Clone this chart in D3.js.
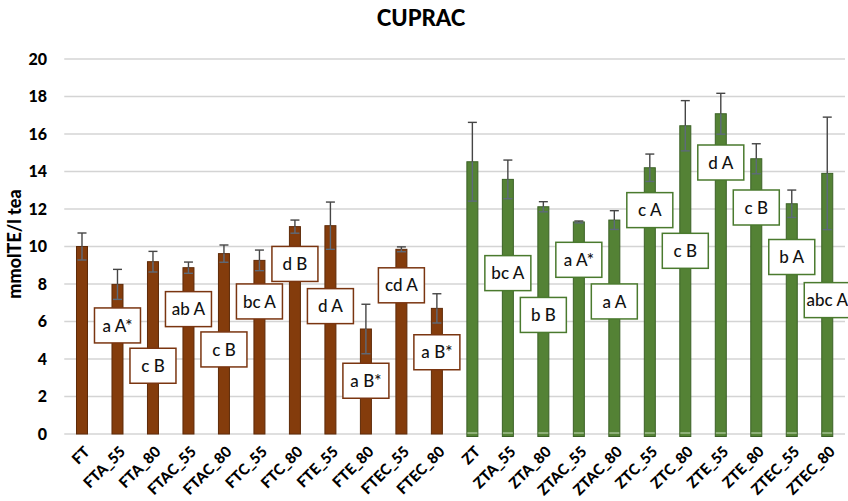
<!DOCTYPE html>
<html>
<head>
<meta charset="utf-8">
<script src="https://cdn.jsdelivr.net/npm/d3@7"></script>
<style>
  html, body { margin: 0; padding: 0; background: #fff; }
  svg { display: block; }
</style>
</head>
<body>
<svg id="chart" width="848" height="501"></svg>
<script>
const categories = ["FT","FTA_55","FTA_80","FTAC_55","FTAC_80","FTC_55","FTC_80","FTE_55","FTE_80","FTEC_55","FTEC_80",
                    "ZT","ZTA_55","ZTA_80","ZTAC_55","ZTAC_80","ZTC_55","ZTC_80","ZTE_55","ZTE_80","ZTEC_55","ZTEC_80"];
const groups = ["F","F","F","F","F","F","F","F","F","F","F","Z","Z","Z","Z","Z","Z","Z","Z","Z","Z","Z"];
const means = [10.0, 7.98, 9.19, 8.87, 9.62, 9.26, 11.06, 11.11, 5.6, 9.85, 6.7,
               14.52, 13.58, 12.12, 11.31, 11.41, 14.2, 16.44, 17.08, 14.68, 12.28, 13.9];
const errors = [0.72, 0.8, 0.55, 0.3, 0.46, 0.55, 0.35, 1.26, 1.32, 0.13, 0.78,
                2.1, 1.03, 0.27, 0.05, 0.5, 0.73, 1.34, 1.09, 0.8, 0.73, 3.0];
const letters = ["", "a A*", "c B", "ab A", "c B", "bc A", "d B", "d A", "a B*", "cd A", "a B*",
                 "", "bc A", "b B", "a A*", "a A", "c A", "c B", "d A", "c B", "b A", "abc A"];
const letterAt = [null, 5.79, 3.64, 6.66, 4.51, 7.07, 9.07, 6.82, 2.84, 7.93, 4.36,
                  null, 8.58, 6.35, 9.29, 7.07, 11.94, 9.77, 14.48, 12.08, 9.44, 7.14];
const yTicks = [0, 2, 4, 6, 8, 10, 12, 14, 16, 18, 20];
const title = "CUPRAC";
const yTitle = "mmolTE/l tea";

const data = categories.map((c, i) => ({
  cat: c, group: groups[i], mean: means[i], err: errors[i], letter: letters[i], at: letterAt[i]
}));

const fills = { F: "#843c0c", Z: "#548235" };
const strokes = { F: "#5e2a08", Z: "#3b6126" };
const FONT = "Lato, 'Open Sans', sans-serif";

const svg = d3.select("#chart");
const pLeft = 64.25, pRight = 845, pTop = 59, pBottom = 434;

const x = d3.scaleBand().domain(categories).range([pLeft, pRight]).paddingInner(0.69).paddingOuter(0.345);
const y = d3.scaleLinear().domain([0, 20]).range([pBottom, pTop]);

// gridlines
svg.append("g").selectAll("line").data(yTicks).join("line")
  .attr("x1", pLeft).attr("x2", pRight)
  .attr("y1", d => y(d)).attr("y2", d => y(d))
  .attr("stroke", "#d4d4d4").attr("stroke-width", 1.5);

// y tick labels
const yAxis = d3.axisLeft(y).tickValues(yTicks).tickSize(0).tickPadding(0);
const ya = svg.append("g").attr("transform", `translate(47,0)`).call(yAxis);
ya.select(".domain").remove();
ya.selectAll("text").attr("font-family", FONT)
  .attr("font-weight", 900).attr("font-size", 16).attr("fill", "#000");

// bars
const bw = x.bandwidth();
svg.append("g").selectAll("rect").data(data).join("rect")
  .attr("x", d => x(d.cat))
  .attr("y", d => y(d.mean))
  .attr("width", bw)
  .attr("height", d => y(0) - y(d.mean) + (d.group === "Z" ? 2.5 : 0))
  .attr("fill", d => fills[d.group])
  .attr("stroke", d => strokes[d.group]).attr("stroke-width", 1);

// light baseline across green bars
svg.append("g").selectAll("line").data(data.filter(d => d.group === "Z")).join("line")
  .attr("x1", d => x(d.cat) + 0.5).attr("x2", d => x(d.cat) + bw - 0.5)
  .attr("y1", y(0) - 1).attr("y2", y(0) - 1)
  .attr("stroke", "#c8dcbc").attr("stroke-width", 1);

// error bars
const eg = svg.append("g").attr("stroke", "#454545").attr("stroke-width", 1.4);
data.forEach(d => {
  const cx = x(d.cat) + bw / 2;
  eg.append("line").attr("x1", cx).attr("x2", cx).attr("y1", y(d.mean + d.err)).attr("y2", y(d.mean));
  eg.append("line").attr("x1", cx).attr("x2", cx).attr("y1", y(d.mean)).attr("y2", y(d.mean - d.err))
    .attr("stroke", "#5d6a7a");
  eg.append("line").attr("x1", cx - 4.5).attr("x2", cx + 4.5).attr("y1", y(d.mean + d.err)).attr("y2", y(d.mean + d.err));
  eg.append("line").attr("x1", cx - 4.5).attr("x2", cx + 4.5).attr("y1", y(d.mean - d.err)).attr("y2", y(d.mean - d.err))
    .attr("stroke", "#5d6a7a");
});

// letter boxes
const boxW = 46, boxH = 35;
const lb = svg.append("g").selectAll("g").data(data.filter(d => d.letter)).join("g")
  .attr("transform", d => `translate(${x(d.cat) + bw / 2},${y(d.at)})`);
lb.append("rect")
  .attr("x", -boxW / 2).attr("y", -boxH / 2).attr("width", boxW).attr("height", boxH)
  .attr("fill", "#fff").attr("stroke", d => d.group === "F" ? "#7a3510" : "#4a7a2e").attr("stroke-width", 1.5);
lb.append("text")
  .attr("text-anchor", "middle").attr("dy", "0.36em")
  .attr("font-family", FONT).attr("font-size", 17).attr("font-weight", 500)
  .attr("fill", "#111")
  .text(d => d.letter);

// x labels
svg.append("g").selectAll("text").data(data).join("text")
  .attr("transform", d => `translate(${x(d.cat) + bw / 2 + 5},${y(0) + 15}) rotate(-45)`)
  .attr("text-anchor", "end").attr("dy", "0.35em")
  .attr("font-family", FONT).attr("font-weight", 900).attr("font-size", 15)
  .attr("fill", "#000")
  .text(d => d.cat);

// title
svg.append("text").attr("x", 421).attr("y", 26).attr("text-anchor", "middle")
  .attr("font-family", FONT).attr("font-weight", 900).attr("font-size", 22)
  .attr("fill", "#000").text(title);

// y title
svg.append("text").attr("transform", `translate(21,244) rotate(-90)`).attr("text-anchor", "middle")
  .attr("font-family", FONT).attr("font-weight", 900).attr("font-size", 18)
  .attr("fill", "#000").text(yTitle);
</script>
</body>
</html>
